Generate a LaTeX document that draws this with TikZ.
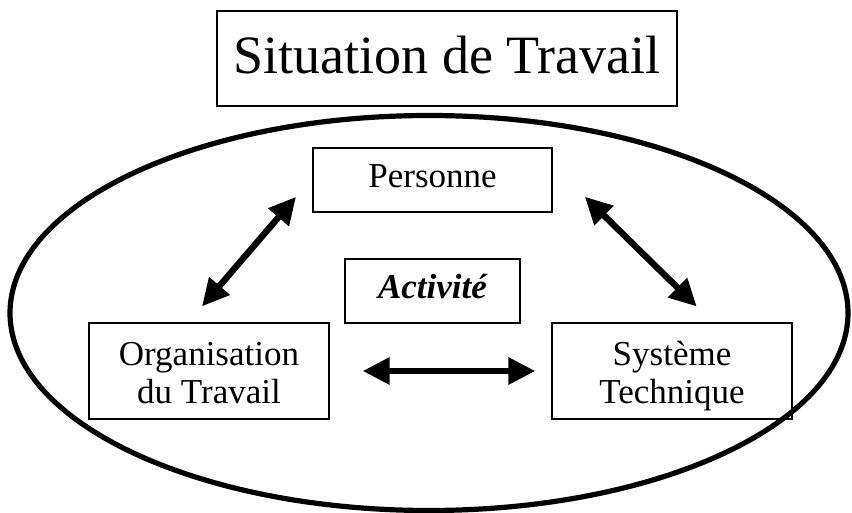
\documentclass[tikz,border=0pt]{standalone}
\usepackage{fontspec}
\setmainfont{Liberation Serif}
\usepackage{tikz}
\usetikzlibrary{shapes.geometric, arrows.meta, positioning}
\tikzset{
    cadre/.style={rectangle, draw=black, line width=0.7pt, inner sep=0pt, text centered},
    titre/.style={cadre, minimum width=230pt, text height=31.5pt, text depth=16pt, font=\fontsize{27}{31}\selectfont},
    simple/.style={cadre, text height=20pt, text depth=12pt, font=\fontsize{17.5}{19.5}\selectfont},
    pole/.style={cadre, minimum width=120pt, text height=40.5pt, text depth=7.5pt, align=center, font=\fontsize{17.5}{19.5}\selectfont},
    contour/.style={ellipse, draw=black, line width=2.6pt, inner sep=0pt, minimum width=419pt, minimum height=197.5pt},
    fleche/.style={{Triangle[length=13.5pt, width=13pt]}-{Triangle[length=13.5pt, width=13pt]}, line width=3.2pt},
}
\begin{document}
\begin{tikzpicture}[x=0.5pt, y=-0.5pt]
        \useasboundingbox (0,0) rectangle (852,513);

        % Situation
        \node[titre] (situation) at (447,58.5) {Situation de Travail};
        \node[contour] (travail) at (429,313) {};

        % Poles
        \node[simple, minimum width=119.5pt] (personne) at (432.5,180) {Personne};
        \node[simple, minimum width=87.5pt] (activite) at (432.5,291) {\bfseries\itshape Activité};
        \node[pole] (organisation) at (209,371) {Organisation\\du Travail};
        \node[pole] (systeme) at (672,371) {Système\\Technique};

        % Arrows
        \draw[fleche, shorten <=10.5pt, shorten >=12.5pt] (organisation.113.6) -- (personne.179);
        \draw[fleche, shorten <=22.5pt, shorten >=11.3pt] (personne.7.15) -- (systeme.50.9);
        \draw[fleche, shorten <=16.5pt, shorten >=8pt] (organisation.east) -- (systeme.west);
    \end{tikzpicture}
\end{document}
